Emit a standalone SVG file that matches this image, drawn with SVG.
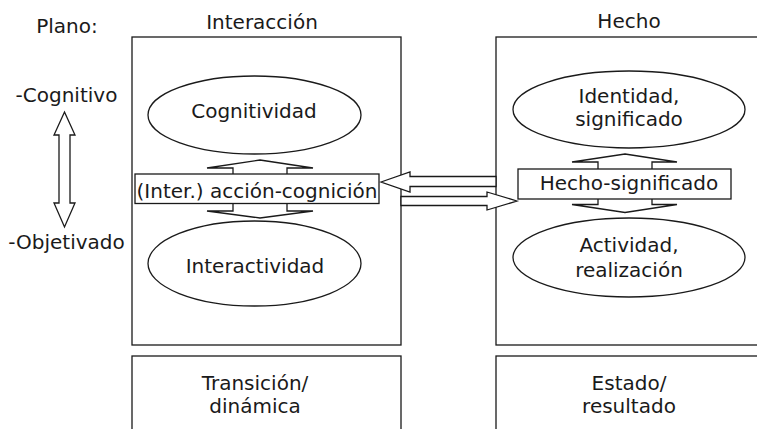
<svg xmlns="http://www.w3.org/2000/svg" width="757" height="429" viewBox="0 0 757 429">
<style>
  .s { fill: #ffffff; stroke: #1a1a1a; stroke-width: 1.3; }
  .t { font-family: "DejaVu Sans", "Liberation Sans", sans-serif; font-size: 20px; fill: #1a1a1a; text-anchor: middle; }
</style>
<rect x="0" y="0" width="757" height="429" fill="#ffffff"/>
<g id="labels">
  <text class="t" x="67" y="33">Plano:</text>
  <text class="t" x="262" y="29">Interacción</text>
  <text class="t" x="629" y="28">Hecho</text>
  <text class="t" x="66.5" y="102">-Cognitivo</text>
  <text class="t" x="66.5" y="249">-Objetivado</text>
</g>
<g id="box-interaccion">
  <rect class="s" x="132" y="37" width="269" height="308"/>
</g>
<g id="box-hecho">
  <rect class="s" x="496" y="37" width="270" height="308"/>
</g>
<g id="box-transicion">
  <rect class="s" x="132" y="356" width="269" height="80"/>
  <text class="t" x="255" y="390">Transición/</text>
  <text class="t" x="255" y="413">dinámica</text>
</g>
<g id="box-estado">
  <rect class="s" x="496" y="356" width="270" height="80"/>
  <text class="t" x="629" y="390">Estado/</text>
  <text class="t" x="629" y="413">resultado</text>
</g>
<g id="connectors">
  <polygon class="s" points="64.5,112 75,135 70,135 70,203 75,203 64.5,227 54,203 59,203 59,135 54,135"/>
  <polygon class="s" points="260,160 313,168 287,168 287,211 313,211 260,218 207,211 233,211 233,168 207,168"/>
  <polygon class="s" points="625,154 677,162 652,162 652,204.5 677,204.5 625,212.5 572,204.5 598,204.5 598,162 572,162"/>
  <polygon class="s" points="381,182 410,172 410,176.5 496,176.5 496,186.5 410,186.5 410,192"/>
  <polygon class="s" points="517,201 487,192 487,196.5 401,196.5 401,205.5 487,205.5 487,210"/>
</g>
<g id="node-cognitividad">
  <ellipse class="s" cx="254.5" cy="115" rx="106.5" ry="39"/>
  <text class="t" x="254" y="118">Cognitividad</text>
</g>
<g id="node-interactividad">
  <ellipse class="s" cx="254.5" cy="263.5" rx="106.5" ry="42.5"/>
  <text class="t" x="255" y="273">Interactividad</text>
</g>
<g id="node-accion-cognicion">
  <rect class="s" x="135" y="174" width="244" height="29.5"/>
  <text class="t" x="257" y="198">(Inter.) acción-cognición</text>
</g>
<g id="node-identidad">
  <ellipse class="s" cx="629" cy="109.5" rx="116" ry="38.5"/>
  <text class="t" x="629" y="103">Identidad,</text>
  <text class="t" x="629" y="126">significado</text>
</g>
<g id="node-actividad">
  <ellipse class="s" cx="629" cy="257.5" rx="116" ry="39.5"/>
  <text class="t" x="629" y="252">Actividad,</text>
  <text class="t" x="629" y="277">realización</text>
</g>
<g id="node-hecho-significado">
  <rect class="s" x="518" y="169" width="213" height="30"/>
  <text class="t" x="629" y="190">Hecho-significado</text>
</g>
</svg>
